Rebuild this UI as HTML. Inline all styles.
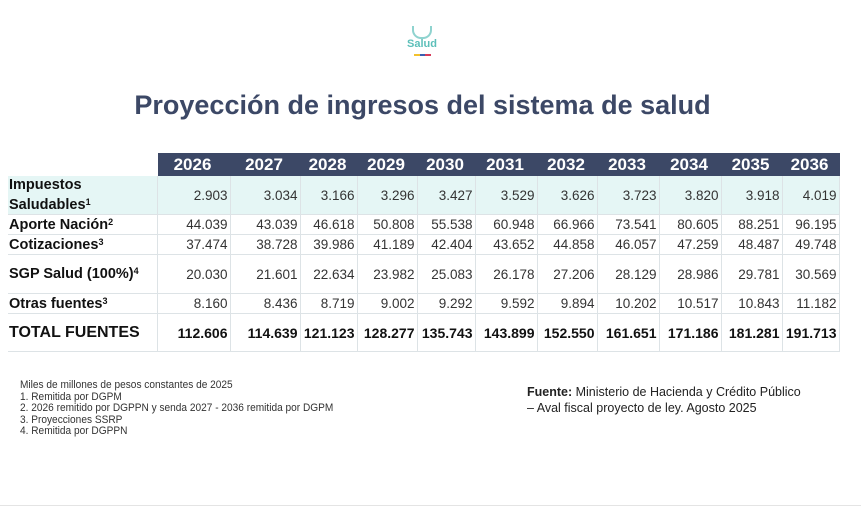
<!DOCTYPE html>
<html><head><meta charset="utf-8"><style>
body{margin:0;width:861px;height:512px;background:#fff;font-family:"Liberation Sans",sans-serif;position:relative;overflow:hidden}
.a{position:absolute}
table{position:absolute;left:8px;top:153px;border-collapse:collapse;table-layout:fixed}
td{padding:0 2px 0 0;text-align:right;font-size:13.5px;color:#333;border:1px solid #dde3e6;white-space:nowrap}
td:first-child{text-align:left;font-weight:bold;color:#111;font-size:14.5px;padding-left:1px;border-left:none}
tr.h td{background:#3c4866;color:#fff;font-weight:bold;font-size:17px;text-align:center;border-color:#3c4866}
tr.h td:first-child{background:#fff;border-color:#fff}
tr.i td{background:#e5f6f5}
tr.t td{font-weight:bold;color:#111;font-size:14px}
sup{font-size:9px;vertical-align:4px}
</style></head><body>
<div class="a" style="left:412px;top:26px;width:20px;height:13px;border:2px solid #8fd3cf;border-top:none;border-radius:0 0 9px 9px;box-sizing:border-box"></div>
<div class="a" style="left:405px;top:38px;width:34px;text-align:center;font-size:11px;font-weight:bold;color:#5cbfb9">Salud</div>
<div class="a" style="left:414px;top:54px;width:6px;height:2px;background:#f2c12e"></div>
<div class="a" style="left:420px;top:54px;width:5px;height:2px;background:#3b5fb0"></div>
<div class="a" style="left:425px;top:54px;width:6px;height:2px;background:#d63b5a"></div>
<div class="a" style="left:0;top:90px;width:845px;text-align:center;font-size:27px;font-weight:bold;color:#3c4866">Proyección de ingresos del sistema de salud</div>
<table>
<colgroup><col style="width:149px"><col style="width:73px"><col style="width:70px"><col style="width:57px"><col style="width:60px"><col style="width:58px"><col style="width:62px"><col style="width:60px"><col style="width:62px"><col style="width:62px"><col style="width:61px"><col style="width:57px"></colgroup>
<tr class="h" style="height:22px"><td></td><td>2026</td><td>2027</td><td>2028</td><td>2029</td><td>2030</td><td>2031</td><td>2032</td><td>2033</td><td>2034</td><td>2035</td><td>2036</td></tr>
<tr class="i" style="height:39px"><td style="line-height:17px">Impuestos<br>Saludables<sup>1</sup></td><td>2.903</td><td>3.034</td><td>3.166</td><td>3.296</td><td>3.427</td><td>3.529</td><td>3.626</td><td>3.723</td><td>3.820</td><td>3.918</td><td>4.019</td></tr>
<tr style="height:20px"><td>Aporte Nación<sup>2</sup></td><td>44.039</td><td>43.039</td><td>46.618</td><td>50.808</td><td>55.538</td><td>60.948</td><td>66.966</td><td>73.541</td><td>80.605</td><td>88.251</td><td>96.195</td></tr>
<tr style="height:20px"><td>Cotizaciones<sup>3</sup></td><td>37.474</td><td>38.728</td><td>39.986</td><td>41.189</td><td>42.404</td><td>43.652</td><td>44.858</td><td>46.057</td><td>47.259</td><td>48.487</td><td>49.748</td></tr>
<tr style="height:39px"><td>SGP Salud (100%)<sup>4</sup></td><td>20.030</td><td>21.601</td><td>22.634</td><td>23.982</td><td>25.083</td><td>26.178</td><td>27.206</td><td>28.129</td><td>28.986</td><td>29.781</td><td>30.569</td></tr>
<tr style="height:20px"><td>Otras fuentes<sup>3</sup></td><td>8.160</td><td>8.436</td><td>8.719</td><td>9.002</td><td>9.292</td><td>9.592</td><td>9.894</td><td>10.202</td><td>10.517</td><td>10.843</td><td>11.182</td></tr>
<tr class="t" style="height:38px"><td style="font-size:16px">TOTAL FUENTES</td><td>112.606</td><td>114.639</td><td>121.123</td><td>128.277</td><td>135.743</td><td>143.899</td><td>152.550</td><td>161.651</td><td>171.186</td><td>181.281</td><td>191.713</td></tr>
</table>
<div class="a" style="left:20px;top:380px;font-size:11px;line-height:11.6px;color:#333;transform:scaleX(0.92);transform-origin:left">Miles de millones de pesos constantes de 2025<br>1. Remitida por DGPM<br>2. 2026 remitido por DGPPN y senda 2027 - 2036 remitida por DGPM<br>3. Proyecciones SSRP<br>4. Remitida por DGPPN</div>
<div class="a" style="left:527px;top:384px;font-size:12.5px;line-height:16px;color:#222"><b>Fuente:</b> Ministerio de Hacienda y Crédito Público<br>– Aval fiscal proyecto de ley. Agosto 2025</div>
<div class="a" style="left:0;top:505px;width:861px;height:1px;background:#e4e4e4"></div>
</body></html>
